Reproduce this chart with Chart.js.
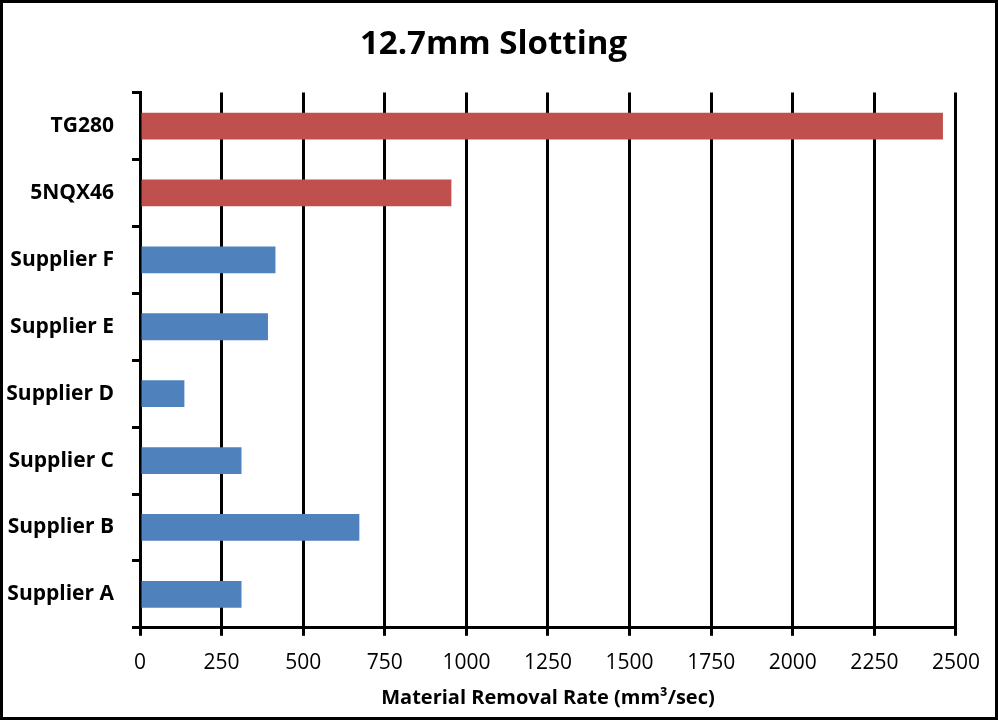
<!DOCTYPE html>
<html>
<head>
<meta charset="utf-8">
<script src="https://cdn.jsdelivr.net/npm/chart.js@4/dist/chart.umd.min.js"></script>
<style>
  html, body { margin: 0; padding: 0; background: #fff; }
  #frame { width: 998px; height: 720px; box-sizing: border-box; border: 3px solid #000; background: #fff; }
  #frame canvas { display: block; }
</style>
</head>
<body>
<div id="frame"><canvas id="mrrChart" width="992" height="714"></canvas></div>
<script>
// categories, top to bottom as in the picture
var tools = ['TG280', '5NQX46', 'Supplier F', 'Supplier E', 'Supplier D', 'Supplier C', 'Supplier B', 'Supplier A']
// material removal rate, mm^3/sec
var removalRate = [2460, 954, 415, 392, 136, 311, 672, 311]
// which tools are the highlighted (red) ones
var ownTools = ['TG280', '5NQX46']
var xTicks = [0, 250, 500, 750, 1000, 1250, 1500, 1750, 2000, 2250, 2500]

var RED = '#C0504D'
var BLUE = '#4F81BD'
var FONT = "'Open Sans', 'DejaVu Sans', sans-serif"

var barColors = tools.map(function (t) { return ownTools.indexOf(t) >= 0 ? RED : BLUE })

var ctx = document.getElementById('mrrChart').getContext('2d')
new Chart(ctx, {
  type: 'bar',
  data: {
    labels: tools,
    datasets: [{
      data: removalRate,
      backgroundColor: barColors,
      borderWidth: 0,
      barPercentage: 0.4,
      categoryPercentage: 1
    }]
  },
  options: {
    indexAxis: 'y',
    responsive: false,
    animation: false,
    layout: { padding: { left: 0, right: 11, bottom: 7, top: 0 } },
    plugins: {
      legend: { display: false },
      tooltip: { enabled: false },
      title: {
        display: true,
        text: '12.7mm Slotting',
        color: '#000',
        font: { family: FONT, size: 33, weight: 'bold' },
        padding: { top: 22, bottom: 28 }
      }
    },
    scales: {
      x: {
        min: 0,
        max: 2500,
        afterBuildTicks: function (axis) {
          axis.ticks = xTicks.map(function (v) { return { value: v } })
        },
        ticks: {
          color: '#000',
          font: { family: FONT, size: 21 },
          padding: 15,
          maxRotation: 0,
          callback: function (v) { return String(v) }
        },
        grid: { color: '#000', lineWidth: 3, tickLength: 8 },
        border: { color: '#000', width: 3 },
        title: {
          display: true,
          text: 'Material Removal Rate (mm³/sec)',
          color: '#000',
          font: { family: FONT, size: 20, weight: 'bold' },
          padding: { top: -5, bottom: 0 }
        }
      },
      y: {
        afterFit: function (scale) { scale.width = 137 },
        ticks: { color: '#000', font: { family: FONT, size: 21, weight: 'bold' }, padding: 18 },
        grid: { color: '#000', lineWidth: 3, tickLength: 8, drawOnChartArea: false },
        border: { color: '#000', width: 3 }
      }
    }
  }
})
</script>
</body>
</html>
